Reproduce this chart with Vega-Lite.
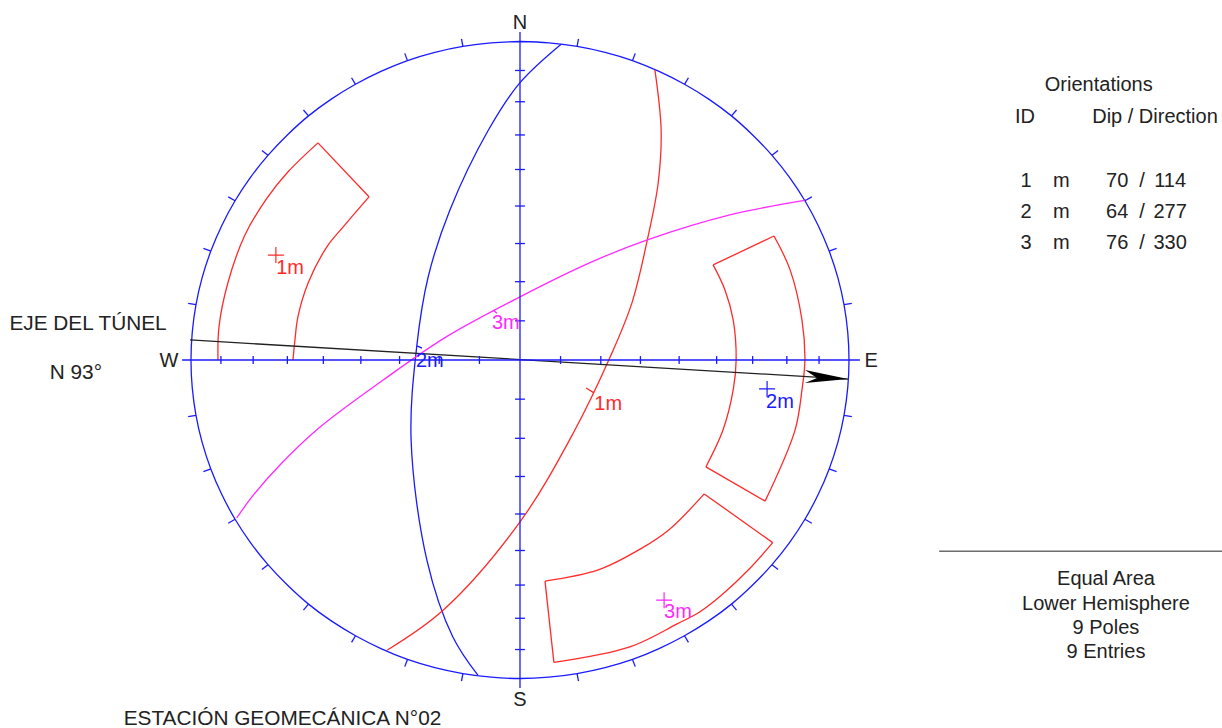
{"$schema":"https://vega.github.io/schema/vega-lite/v6.json","width":1222,"height":728,"padding":0,"autosize":"none","background":"white","config":{"view":{"stroke":null}},
"datasets":{
"curves":[
{"c":"net","s":"net","x":0,"y":96.8},{"c":"net","s":"net","x":8.72,"y":96.4},{"c":"net","s":"net","x":17.36,"y":95.3},{"c":"net","s":"net","x":25.88,"y":93.5},{"c":"net","s":"net","x":34.2,"y":91},{"c":"net","s":"net","x":42.26,"y":87.7},{"c":"net","s":"net","x":50,"y":83.8},{"c":"net","s":"net","x":57.36,"y":79.3},{"c":"net","s":"net","x":64.28,"y":74.2},{"c":"net","s":"net","x":70.71,"y":68.4},{"c":"net","s":"net","x":76.6,"y":62.2},{"c":"net","s":"net","x":81.92,"y":55.5},{"c":"net","s":"net","x":86.6,"y":48.4},{"c":"net","s":"net","x":90.63,"y":40.9},{"c":"net","s":"net","x":93.97,"y":33.1},{"c":"net","s":"net","x":96.59,"y":25.1},{"c":"net","s":"net","x":98.48,"y":16.8},{"c":"net","s":"net","x":99.62,"y":8.4},{"c":"net","s":"net","x":100,"y":0},
{"c":"net","s":"net","x":99.62,"y":-8.4},{"c":"net","s":"net","x":98.48,"y":-16.8},{"c":"net","s":"net","x":96.59,"y":-25.1},{"c":"net","s":"net","x":93.97,"y":-33.1},{"c":"net","s":"net","x":90.63,"y":-40.9},{"c":"net","s":"net","x":86.6,"y":-48.4},{"c":"net","s":"net","x":81.92,"y":-55.5},{"c":"net","s":"net","x":76.6,"y":-62.2},{"c":"net","s":"net","x":70.71,"y":-68.4},{"c":"net","s":"net","x":64.28,"y":-74.2},{"c":"net","s":"net","x":57.36,"y":-79.3},{"c":"net","s":"net","x":50,"y":-83.8},{"c":"net","s":"net","x":42.26,"y":-87.7},{"c":"net","s":"net","x":34.2,"y":-91},{"c":"net","s":"net","x":25.88,"y":-93.5},{"c":"net","s":"net","x":17.36,"y":-95.3},{"c":"net","s":"net","x":8.72,"y":-96.4},{"c":"net","s":"net","x":0,"y":-96.8},
{"c":"net","s":"net","x":-8.72,"y":-96.4},{"c":"net","s":"net","x":-17.36,"y":-95.3},{"c":"net","s":"net","x":-25.88,"y":-93.5},{"c":"net","s":"net","x":-34.2,"y":-91},{"c":"net","s":"net","x":-42.26,"y":-87.7},{"c":"net","s":"net","x":-50,"y":-83.8},{"c":"net","s":"net","x":-57.36,"y":-79.3},{"c":"net","s":"net","x":-64.28,"y":-74.2},{"c":"net","s":"net","x":-70.71,"y":-68.4},{"c":"net","s":"net","x":-76.6,"y":-62.2},{"c":"net","s":"net","x":-81.92,"y":-55.5},{"c":"net","s":"net","x":-86.6,"y":-48.4},{"c":"net","s":"net","x":-90.63,"y":-40.9},{"c":"net","s":"net","x":-93.97,"y":-33.1},{"c":"net","s":"net","x":-96.59,"y":-25.1},{"c":"net","s":"net","x":-98.48,"y":-16.8},{"c":"net","s":"net","x":-99.62,"y":-8.4},{"c":"net","s":"net","x":-100,"y":0},
{"c":"net","s":"net","x":-99.62,"y":8.4},{"c":"net","s":"net","x":-98.48,"y":16.8},{"c":"net","s":"net","x":-96.59,"y":25.1},{"c":"net","s":"net","x":-93.97,"y":33.1},{"c":"net","s":"net","x":-90.63,"y":40.9},{"c":"net","s":"net","x":-86.6,"y":48.4},{"c":"net","s":"net","x":-81.92,"y":55.5},{"c":"net","s":"net","x":-76.6,"y":62.2},{"c":"net","s":"net","x":-70.71,"y":68.4},{"c":"net","s":"net","x":-64.28,"y":74.2},{"c":"net","s":"net","x":-57.36,"y":79.3},{"c":"net","s":"net","x":-50,"y":83.8},{"c":"net","s":"net","x":-42.26,"y":87.7},{"c":"net","s":"net","x":-34.2,"y":91},{"c":"net","s":"net","x":-25.88,"y":93.5},{"c":"net","s":"net","x":-17.36,"y":95.3},{"c":"net","s":"net","x":-8.72,"y":96.4},{"c":"net","s":"net","x":0,"y":96.8},
{"c":"gc2","s":"2m","x":12.5,"y":96},{"c":"gc2","s":"2m","x":0,"y":84.3},{"c":"gc2","s":"2m","x":-9.6,"y":69.9},{"c":"gc2","s":"2m","x":-21.3,"y":45.6},{"c":"gc2","s":"2m","x":-27.9,"y":25.3},{"c":"gc2","s":"2m","x":-31.4,"y":4},{"c":"gc2","s":"2m","x":-33.1,"y":-24.3},{"c":"gc2","s":"2m","x":-28.3,"y":-60.8},{"c":"gc2","s":"2m","x":-20.4,"y":-84.2},{"c":"gc2","s":"2m","x":-12.8,"y":-95.8},
{"c":"tick2","s":"2m","x":-31.3,"y":4.3},{"c":"tick2","s":"2m","x":-29.8,"y":3.6},
{"c":"gc1","s":"1m","x":41,"y":88.2},{"c":"gc1","s":"1m","x":42.9,"y":69.9},{"c":"gc1","s":"1m","x":42,"y":53.8},{"c":"gc1","s":"1m","x":38.7,"y":36.5},{"c":"gc1","s":"1m","x":34,"y":17.3},{"c":"gc1","s":"1m","x":27.4,"y":0.9},{"c":"gc1","s":"1m","x":16.2,"y":-22.2},{"c":"gc1","s":"1m","x":0,"y":-49.2},{"c":"gc1","s":"1m","x":-23.3,"y":-76},{"c":"gc1","s":"1m","x":-40.4,"y":-88.2},
{"c":"tick1","s":"1m","x":20.1,"y":-8.5},{"c":"tick1","s":"1m","x":22.5,"y":-10},
{"c":"gc3","s":"3m","x":86.9,"y":48.6},{"c":"gc3","s":"3m","x":63.8,"y":44.1},{"c":"gc3","s":"3m","x":38.7,"y":36.5},{"c":"gc3","s":"3m","x":21.3,"y":29.6},{"c":"gc3","s":"3m","x":0,"y":19.2},{"c":"gc3","s":"3m","x":-22.3,"y":7.1},{"c":"gc3","s":"3m","x":-41.6,"y":-6.1},{"c":"gc3","s":"3m","x":-61.3,"y":-20.8},{"c":"gc3","s":"3m","x":-72.4,"y":-31.3},{"c":"gc3","s":"3m","x":-81,"y":-41},{"c":"gc3","s":"3m","x":-86.1,"y":-48},
{"c":"tick3","s":"3m","x":-8.2,"y":15.2},{"c":"tick3","s":"3m","x":-7,"y":14.2},
{"c":"winA1","s":"1m","x":-69,"y":0},{"c":"winA1","s":"1m","x":-68.4,"y":6.1},{"c":"winA1","s":"1m","x":-67.5,"y":13.1},{"c":"winA1","s":"1m","x":-64.4,"y":23.4},{"c":"winA1","s":"1m","x":-58.7,"y":34.4},{"c":"winA1","s":"1m","x":-53.8,"y":40.4},{"c":"winA1","s":"1m","x":-45.9,"y":49.6},
{"c":"winA2","s":"1m","x":-45.9,"y":49.6},{"c":"winA2","s":"1m","x":-61.4,"y":66},
{"c":"winA3","s":"1m","x":-61.4,"y":66},{"c":"winA3","s":"1m","x":-70.5,"y":57.2},{"c":"winA3","s":"1m","x":-76.9,"y":49.2},{"c":"winA3","s":"1m","x":-83.6,"y":38},{"c":"winA3","s":"1m","x":-88.8,"y":23.4},{"c":"winA3","s":"1m","x":-91.5,"y":10},{"c":"winA3","s":"1m","x":-91.8,"y":0},
{"c":"winB1","s":"1m","x":58.7,"y":28.9},{"c":"winB1","s":"1m","x":77.2,"y":37.7},
{"c":"winB2","s":"1m","x":77.2,"y":37.7},{"c":"winB2","s":"1m","x":82.1,"y":27.4},{"c":"winB2","s":"1m","x":85.7,"y":12.2},{"c":"winB2","s":"1m","x":86.6,"y":0},{"c":"winB2","s":"1m","x":85.7,"y":-9.1},{"c":"winB2","s":"1m","x":83.6,"y":-21.3},{"c":"winB2","s":"1m","x":74.5,"y":-42.9},
{"c":"winB3","s":"1m","x":74.5,"y":-42.9},{"c":"winB3","s":"1m","x":56.5,"y":-32.5},
{"c":"winB4","s":"1m","x":56.5,"y":-32.5},{"c":"winB4","s":"1m","x":61.7,"y":-21.3},{"c":"winB4","s":"1m","x":64.8,"y":-9.1},{"c":"winB4","s":"1m","x":65.7,"y":0},{"c":"winB4","s":"1m","x":64.8,"y":12.2},{"c":"winB4","s":"1m","x":62.3,"y":21.3},{"c":"winB4","s":"1m","x":58.7,"y":28.9},
{"c":"winC1","s":"1m","x":56,"y":-40.7},{"c":"winC1","s":"1m","x":76.8,"y":-55.5},
{"c":"winC2","s":"1m","x":76.8,"y":-55.5},{"c":"winC2","s":"1m","x":69.9,"y":-63.3},{"c":"winC2","s":"1m","x":61.3,"y":-71.4},{"c":"winC2","s":"1m","x":54.7,"y":-76.5},{"c":"winC2","s":"1m","x":47.6,"y":-80.3},{"c":"winC2","s":"1m","x":33.4,"y":-87.2},{"c":"winC2","s":"1m","x":10.3,"y":-91.9},
{"c":"winC3","s":"1m","x":10.3,"y":-91.9},{"c":"winC3","s":"1m","x":7.6,"y":-67.2},
{"c":"winC4","s":"1m","x":7.6,"y":-67.2},{"c":"winC4","s":"1m","x":23.8,"y":-63.8},{"c":"winC4","s":"1m","x":36.5,"y":-57.5},{"c":"winC4","s":"1m","x":45.4,"y":-51.5},{"c":"winC4","s":"1m","x":56,"y":-40.7},
{"c":"tunnel","s":"tunnel","x":-100.3,"y":6.1},{"c":"tunnel","s":"tunnel","x":99.7,"y":-5.8}
],
"ticks":[
{"x":-102.7,"y":0,"x2":103.3,"y2":0},{"x":0,"y":99.7,"x2":0,"y2":-99.7},
{"x":12.33,"y":-1.2,"x2":12.33,"y2":1.2},{"x":24.56,"y":-1.2,"x2":24.56,"y2":1.2},{"x":36.6,"y":-1.2,"x2":36.6,"y2":1.2},{"x":48.37,"y":-1.2,"x2":48.37,"y2":1.2},{"x":59.77,"y":-1.2,"x2":59.77,"y2":1.2},{"x":70.71,"y":-1.2,"x2":70.71,"y2":1.2},{"x":81.1,"y":-1.2,"x2":81.1,"y2":1.2},{"x":90.9,"y":-1.2,"x2":90.9,"y2":1.2},
{"x":-12.33,"y":-1.2,"x2":-12.33,"y2":1.2},{"x":-24.56,"y":-1.2,"x2":-24.56,"y2":1.2},{"x":-36.6,"y":-1.2,"x2":-36.6,"y2":1.2},{"x":-48.37,"y":-1.2,"x2":-48.37,"y2":1.2},{"x":-59.77,"y":-1.2,"x2":-59.77,"y2":1.2},{"x":-70.71,"y":-1.2,"x2":-70.71,"y2":1.2},{"x":-81.1,"y":-1.2,"x2":-81.1,"y2":1.2},{"x":-90.9,"y":-1.2,"x2":-90.9,"y2":1.2},
{"x":-1.5,"y":11.9,"x2":1.5,"y2":11.9},{"x":-1.5,"y":23.8,"x2":1.5,"y2":23.8},{"x":-1.5,"y":35.4,"x2":1.5,"y2":35.4},{"x":-1.5,"y":46.8,"x2":1.5,"y2":46.8},{"x":-1.5,"y":57.9,"x2":1.5,"y2":57.9},{"x":-1.5,"y":68.4,"x2":1.5,"y2":68.4},{"x":-1.5,"y":78.5,"x2":1.5,"y2":78.5},{"x":-1.5,"y":88,"x2":1.5,"y2":88},
{"x":-1.5,"y":-11.9,"x2":1.5,"y2":-11.9},{"x":-1.5,"y":-23.8,"x2":1.5,"y2":-23.8},{"x":-1.5,"y":-35.4,"x2":1.5,"y2":-35.4},{"x":-1.5,"y":-46.8,"x2":1.5,"y2":-46.8},{"x":-1.5,"y":-57.9,"x2":1.5,"y2":-57.9},{"x":-1.5,"y":-68.4,"x2":1.5,"y2":-68.4},{"x":-1.5,"y":-78.5,"x2":1.5,"y2":-78.5},{"x":-1.5,"y":-88,"x2":1.5,"y2":-88},
{"x":17.36,"y":95.3,"x2":17.78,"y2":97.6},{"x":34.2,"y":91,"x2":35.02,"y2":93.2},{"x":50,"y":83.8,"x2":51.2,"y2":85.8},{"x":64.28,"y":74.2,"x2":65.82,"y2":76},{"x":76.6,"y":62.2,"x2":78.44,"y2":63.7},{"x":86.6,"y":48.4,"x2":88.68,"y2":49.6},{"x":93.97,"y":33.1,"x2":96.22,"y2":33.9},{"x":98.48,"y":16.8,"x2":100.85,"y2":17.2},
{"x":98.48,"y":-16.8,"x2":100.85,"y2":-17.2},{"x":93.97,"y":-33.1,"x2":96.22,"y2":-33.9},{"x":86.6,"y":-48.4,"x2":88.68,"y2":-49.6},{"x":76.6,"y":-62.2,"x2":78.44,"y2":-63.7},{"x":64.28,"y":-74.2,"x2":65.82,"y2":-76},{"x":50,"y":-83.8,"x2":51.2,"y2":-85.8},{"x":34.2,"y":-91,"x2":35.02,"y2":-93.2},{"x":17.36,"y":-95.3,"x2":17.78,"y2":-97.6},
{"x":-17.36,"y":-95.3,"x2":-17.78,"y2":-97.6},{"x":-34.2,"y":-91,"x2":-35.02,"y2":-93.2},{"x":-50,"y":-83.8,"x2":-51.2,"y2":-85.8},{"x":-64.28,"y":-74.2,"x2":-65.82,"y2":-76},{"x":-76.6,"y":-62.2,"x2":-78.44,"y2":-63.7},{"x":-86.6,"y":-48.4,"x2":-88.68,"y2":-49.6},{"x":-93.97,"y":-33.1,"x2":-96.22,"y2":-33.9},{"x":-98.48,"y":-16.8,"x2":-100.85,"y2":-17.2},
{"x":-98.48,"y":16.8,"x2":-100.85,"y2":17.2},{"x":-93.97,"y":33.1,"x2":-96.22,"y2":33.9},{"x":-86.6,"y":48.4,"x2":-88.68,"y2":49.6},{"x":-76.6,"y":62.2,"x2":-78.44,"y2":63.7},{"x":-64.28,"y":74.2,"x2":-65.82,"y2":76},{"x":-50,"y":83.8,"x2":-51.2,"y2":85.8},{"x":-34.2,"y":91,"x2":-35.02,"y2":93.2},{"x":-17.36,"y":95.3,"x2":-17.78,"y2":97.6}
],
"poles":[{"s":"1m","x":-74.2,"y":31.9},{"s":"2m","x":75.1,"y":-8.8},{"s":"3m","x":43.8,"y":-73}],
"titles":[
{"t":"EJE DEL TÚNEL","s":"text","x":-131.3,"y":11.2},{"t":"N 93°","s":"text","x":-135,"y":-3.6},{"t":"ESTACIÓN GEOMECÁNICA N°02","s":"text","x":-72.2,"y":-108.8}
],
"labels":[
{"t":"1m","s":"1m","x":-69.9,"y":28.3},{"t":"2m","s":"2m","x":79,"y":-12.5},{"t":"3m","s":"3m","x":48,"y":-76.3},{"t":"1m","s":"1m","x":26.8,"y":-13.1},{"t":"2m","s":"2m","x":-27.4,"y":0},{"t":"3m","s":"3m","x":-4.3,"y":11.6},
{"t":"N","s":"text","x":0,"y":102.8},{"t":"S","s":"text","x":0,"y":-103.1},{"t":"W","s":"text","x":-106.7,"y":0},{"t":"E","s":"text","x":106.7,"y":0},
{"t":"Orientations","s":"text","x":175.9,"y":83.9},{"t":"ID","s":"text","x":153.5,"y":74.2},{"t":"Dip / Direction","s":"text","x":193,"y":74.2},
{"t":"1","s":"text","x":153.8,"y":54.7},{"t":"m","s":"text","x":164.5,"y":54.7},{"t":"70","s":"text","x":181.5,"y":54.7},{"t":"/","s":"text","x":189.1,"y":54.7},{"t":"114","s":"text","x":197.6,"y":54.7},
{"t":"2","s":"text","x":153.8,"y":45.3},{"t":"m","s":"text","x":164.5,"y":45.3},{"t":"64","s":"text","x":181.5,"y":45.3},{"t":"/","s":"text","x":189.1,"y":45.3},{"t":"277","s":"text","x":197.6,"y":45.3},
{"t":"3","s":"text","x":153.8,"y":35.9},{"t":"m","s":"text","x":164.5,"y":35.9},{"t":"76","s":"text","x":181.5,"y":35.9},{"t":"/","s":"text","x":189.1,"y":35.9},{"t":"330","s":"text","x":197.6,"y":35.9},
{"t":"Equal Area","s":"text","x":178.1,"y":-66.3},{"t":"Lower Hemisphere","s":"text","x":178.1,"y":-73.9},{"t":"9 Poles","s":"text","x":178.1,"y":-81.2},{"t":"9 Entries","s":"text","x":178.1,"y":-88.5}
]
},
"encoding":{
"x":{"field":"x","type":"quantitative","scale":{"domain":[-158.05,213.37],"nice":false,"zero":false},"axis":null},
"y":{"field":"y","type":"quantitative","scale":{"domain":[-111.85,109.42],"nice":false,"zero":false},"axis":null}
},
"layer":[
{"data":{"name":"curves"},"transform":[{"window":[{"op":"row_number","as":"i"}]}],"mark":{"type":"line","strokeWidth":1.3,"clip":false,"interpolate":"catmull-rom"},"encoding":{"detail":{"field":"c"},"order":{"field":"i","type":"quantitative"},"color":{"field":"s","type":"nominal","legend":null,"scale":{"domain":["net","1m","2m","3m","tunnel","text"],"range":["#1a1aff","#ff2a2a","#1a1aff","#ff2aff","#222222","#222222"]}}}},
{"data":{"name":"ticks"},"mark":{"type":"rule","color":"#1a1aff","strokeWidth":1.3},"encoding":{"x2":{"field":"x2"},"y2":{"field":"y2"}}},
{"data":{"name":"poles"},"mark":{"type":"point","shape":"M-1,0H1M0,-1V1","size":256,"filled":false,"opacity":1,"strokeWidth":1.2},"encoding":{"color":{"field":"s","type":"nominal","legend":null}}},
{"data":{"values":[{"x":99.7,"y":-5.8}]},"mark":{"type":"point","shape":"M0,0L-43,-9L-31,-1L-43,4Z","size":4,"filled":true,"opacity":1,"color":"#000000"}},
{"data":{"values":[{"x":127.4,"x2":213.37,"y":-58.1}]},"mark":{"type":"rule","color":"#222222","strokeWidth":1},"encoding":{"x2":{"field":"x2"}}},
{"data":{"name":"labels"},"mark":{"type":"text","font":"Liberation Sans","fontSize":20,"align":"center","baseline":"middle","dy":1},"encoding":{"text":{"field":"t"},"color":{"field":"s","type":"nominal","legend":null}}},
{"data":{"name":"titles"},"mark":{"type":"text","font":"Liberation Sans","fontSize":20.8,"align":"center","baseline":"middle","dy":1},"encoding":{"text":{"field":"t"},"color":{"field":"s","type":"nominal","legend":null}}}
]}
